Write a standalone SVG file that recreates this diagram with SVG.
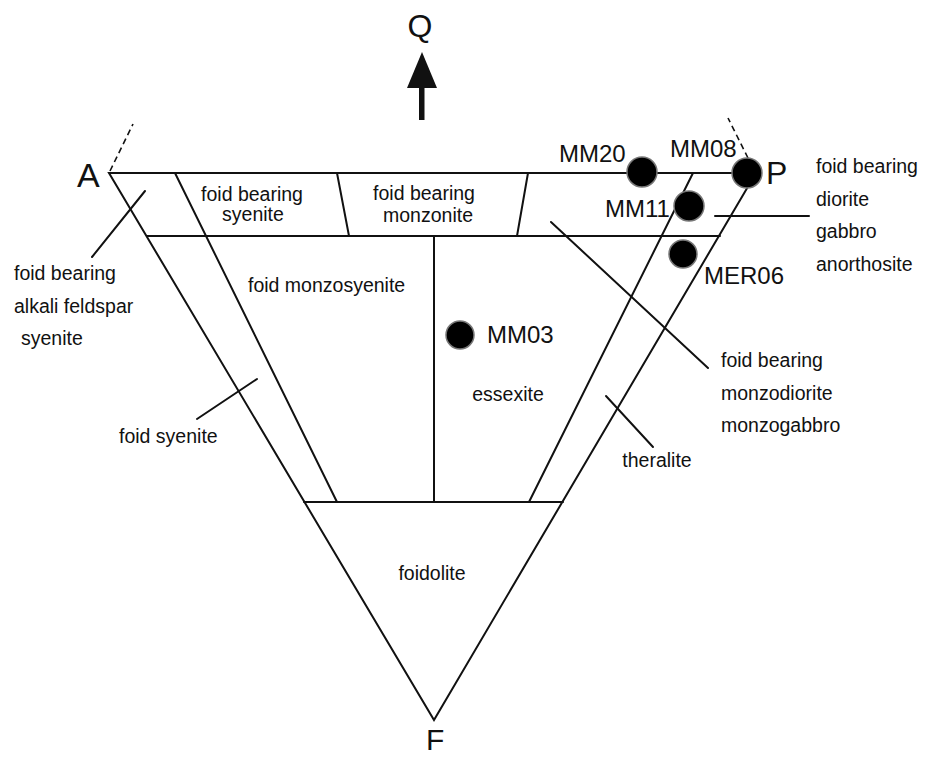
<svg xmlns="http://www.w3.org/2000/svg" width="934" height="757" viewBox="0 0 934 757">
<style>
.ln{stroke:#111;stroke-width:2;fill:none;stroke-linecap:round}
.ds{stroke:#111;stroke-width:1.6;fill:none;stroke-dasharray:6 4}
.t{font-family:"Liberation Sans",Arial,sans-serif;font-size:19.5px;fill:#111}
.m{font-family:"Liberation Sans",Arial,sans-serif;font-size:24px;fill:#111}
.v{font-family:"Liberation Sans",Arial,sans-serif;font-size:32px;fill:#111}
.dot{fill:#000;stroke:#777;stroke-width:1.5}
</style>
<rect width="934" height="757" fill="#fff"/>
<g id="connectors">
  <path class="ln" d="M109,173 L756,173 L434,720 Z"/>
  <line class="ln" x1="147" y1="236" x2="720" y2="236"/>
  <line class="ln" x1="304" y1="502" x2="563" y2="502"/>
  <line class="ln" x1="175" y1="173" x2="337" y2="502"/>
  <line class="ln" x1="337" y1="173" x2="349" y2="236"/>
  <line class="ln" x1="528" y1="173" x2="517" y2="236"/>
  <line class="ln" x1="434" y1="236" x2="434" y2="502"/>
  <line class="ln" x1="693" y1="173" x2="529" y2="502"/>
  <line class="ds" x1="110" y1="171" x2="133" y2="124"/>
  <line class="ds" x1="748" y1="158" x2="728" y2="118"/>
  <line class="ln" x1="145" y1="191" x2="92" y2="257"/>
  <line class="ln" x1="257" y1="379" x2="197" y2="419"/>
  <line class="ln" x1="551" y1="222" x2="708" y2="368"/>
  <line class="ln" x1="606" y1="396" x2="653" y2="447"/>
  <line class="ln" x1="715" y1="216" x2="809" y2="216"/>
  <rect x="419" y="84" width="5.5" height="36" fill="#111"/>
  <polygon points="422,52 407,88 437,88" fill="#111"/>
</g>
<g id="vertices">
  <text class="v" x="420" y="37" text-anchor="middle">Q</text>
  <text class="v" x="77" y="187" style="font-size:34px">A</text>
  <text class="v" x="766" y="184">P</text>
  <text class="v" x="426" y="750" style="font-size:30px">F</text>
</g>
<g id="fields">
  <text class="t" x="252" y="201" text-anchor="middle">foid bearing</text>
  <text class="t" x="253" y="221" text-anchor="middle">syenite</text>
  <text class="t" x="424" y="200" text-anchor="middle">foid bearing</text>
  <text class="t" x="428" y="222" text-anchor="middle">monzonite</text>
  <text class="t" x="248" y="292">foid monzosyenite</text>
  <text class="t" x="508" y="401" text-anchor="middle">essexite</text>
  <text class="t" x="432" y="580" text-anchor="middle">foidolite</text>
  <text class="t" x="657" y="467" text-anchor="middle">theralite</text>
  <text class="t" x="119" y="443">foid syenite</text>
  <text class="t" x="14" y="280">foid bearing</text>
  <text class="t" x="14" y="313">alkali feldspar</text>
  <text class="t" x="21" y="345">syenite</text>
  <text class="t" x="721" y="367">foid bearing</text>
  <text class="t" x="721" y="400">monzodiorite</text>
  <text class="t" x="721" y="432">monzogabbro</text>
  <text class="t" x="816" y="173">foid bearing</text>
  <text class="t" x="816" y="206">diorite</text>
  <text class="t" x="816" y="238">gabbro</text>
  <text class="t" x="816" y="271">anorthosite</text>
</g>
<g id="MM20"><circle class="dot" cx="642" cy="172" r="15"/><text class="m" x="559" y="162">MM20</text></g>
<g id="MM08"><circle class="dot" cx="747" cy="173" r="15"/><text class="m" x="670" y="157">MM08</text></g>
<g id="MM11"><circle class="dot" cx="689" cy="206" r="15"/><text class="m" x="605" y="217">MM11</text></g>
<g id="MER06"><circle class="dot" cx="683" cy="254" r="14"/><text class="m" x="704" y="284">MER06</text></g>
<g id="MM03"><circle class="dot" cx="460" cy="335" r="14"/><text class="m" x="487" y="343">MM03</text></g>
</svg>
